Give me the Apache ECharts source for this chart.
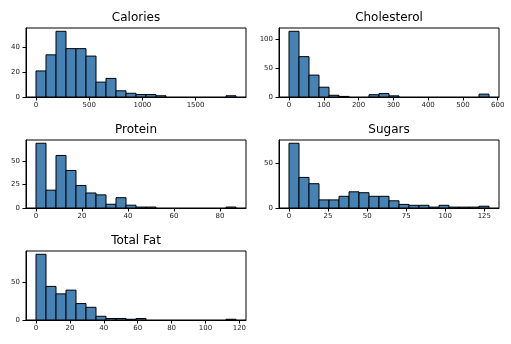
<!DOCTYPE html>
<html>
<head>
<meta charset="utf-8">
<script src="https://cdn.jsdelivr.net/npm/echarts@6/dist/echarts.min.js"></script>
<style>html,body{margin:0;padding:0;background:#fff}#c{width:511px;height:344px}</style>
</head>
<body>
<div id="c"></div>
<script>
// ---- data (20-bin histograms) ----
const titles = ['Calories', 'Cholesterol', 'Protein', 'Sugars', 'Total Fat'];
const caloriesRange = [0, 1880];
const caloriesCounts = [21, 34, 53, 39, 39, 33, 12, 15, 5, 3, 2, 2, 1, 0, 0, 0, 0, 0, 0, 1];
const cholesterolRange = [0, 575];
const cholesterolCounts = [114, 70, 38, 17, 3, 1, 0, 0, 4, 6, 2, 0, 0, 0, 0, 0, 0, 0, 0, 5];
const proteinRange = [0, 87];
const proteinCounts = [69, 19, 56, 40, 24, 16, 14, 4, 11, 3, 1, 1, 0, 0, 0, 0, 0, 0, 0, 1];
const sugarsRange = [0, 128];
const sugarsCounts = [72, 34, 27, 9, 9, 13, 18, 17, 13, 13, 8, 4, 3, 3, 1, 3, 1, 1, 1, 2];
const totalFatRange = [0, 118];
const totalFatCounts = [88, 45, 35, 40, 22, 17, 5, 2, 2, 1, 2, 0, 0, 0, 0, 0, 0, 0, 0, 1];

const caloriesXTicks = [0, 500, 1000, 1500];
const caloriesYTicks = [0, 20, 40];
const cholesterolXTicks = [0, 100, 200, 300, 400, 500, 600];
const cholesterolYTicks = [0, 50, 100];
const proteinXTicks = [0, 20, 40, 60, 80];
const proteinYTicks = [0, 25, 50];
const sugarsXTicks = [0, 25, 50, 75, 100, 125];
const sugarsYTicks = [0, 50];
const totalFatXTicks = [0, 20, 40, 60, 80, 100, 120];
const totalFatYTicks = [0, 50];

// ---- layout ----
const panels = [
  {range: caloriesRange, counts: caloriesCounts, xt: caloriesXTicks, yt: caloriesYTicks, grid: {left: 26, top: 28, width: 220, height: 69}},
  {range: cholesterolRange, counts: cholesterolCounts, xt: cholesterolXTicks, yt: cholesterolYTicks, grid: {left: 279, top: 28, width: 220, height: 69}},
  {range: proteinRange, counts: proteinCounts, xt: proteinXTicks, yt: proteinYTicks, grid: {left: 26, top: 140, width: 220, height: 68}},
  {range: sugarsRange, counts: sugarsCounts, xt: sugarsXTicks, yt: sugarsYTicks, grid: {left: 279, top: 140, width: 220, height: 68}},
  {range: totalFatRange, counts: totalFatCounts, xt: totalFatXTicks, yt: totalFatYTicks, grid: {left: 26, top: 251, width: 220, height: 69}}
];

const FONT = 'DejaVu Sans';
const fmt = v => String(Math.round(v));
const grids = [], xAxes = [], yAxes = [], series = [], graphics = [];
panels.forEach((p, i) => {
  const nb = p.counts.length;
  const w = (p.range[1] - p.range[0]) / nb;
  const span = p.range[1] - p.range[0];
  const maxC = Math.max(...p.counts);
  grids.push(Object.assign({show: true, borderColor: '#000', borderWidth: 1, backgroundColor: 'transparent'}, p.grid));
  xAxes.push({
    type: 'value', gridIndex: i,
    min: p.range[0] - span * 0.05, max: p.range[1] + span * 0.05,
    axisLine: {show: true, onZero: false, lineStyle: {color: '#000', width: 1}},
    axisTick: {show: true, length: 3.5, lineStyle: {color: '#000'}, customValues: p.xt},
    axisLabel: {show: true, color: '#222', fontFamily: FONT, fontSize: 7, margin: 5, customValues: p.xt, formatter: fmt},
    splitLine: {show: false}
  });
  yAxes.push({
    type: 'value', gridIndex: i,
    min: 0, max: maxC * 1.05,
    axisLine: {show: true, onZero: false, lineStyle: {color: '#000', width: 1}},
    axisTick: {show: true, length: 3.5, lineStyle: {color: '#000'}, customValues: p.yt},
    axisLabel: {show: true, color: '#222', fontFamily: FONT, fontSize: 7, margin: 6, customValues: p.yt, formatter: fmt},
    splitLine: {show: false}
  });
  const data = [];
  p.counts.forEach((c, k) => {
    if (c > 0) data.push([p.range[0] + k * w, p.range[0] + (k + 1) * w, c]);
  });
  series.push({
    type: 'custom', xAxisIndex: i, yAxisIndex: i, silent: true,
    data: data,
    renderItem: function (params, api) {
      const a = api.coord([api.value(0), api.value(2)]);
      const b = api.coord([api.value(1), 0]);
      return {
        type: 'rect',
        shape: {x: a[0], y: a[1], width: b[0] - a[0], height: b[1] - a[1]},
        style: {fill: '#4682B4', stroke: '#000', lineWidth: 1}
      };
    }
  });
  graphics.push({
    type: 'text',
    x: p.grid.left + p.grid.width / 2,
    y: p.grid.top - 10,
    style: {text: titles[i], font: '12px "DejaVu Sans"', fill: '#000', textAlign: 'center', textVerticalAlign: 'middle'}
  });
});

const chart = echarts.init(document.getElementById('c'), null, {renderer: 'canvas'});
chart.setOption({
  animation: false,
  backgroundColor: '#fff',
  grid: grids, xAxis: xAxes, yAxis: yAxes, series: series,
  graphic: graphics
});
</script>
</body>
</html>
